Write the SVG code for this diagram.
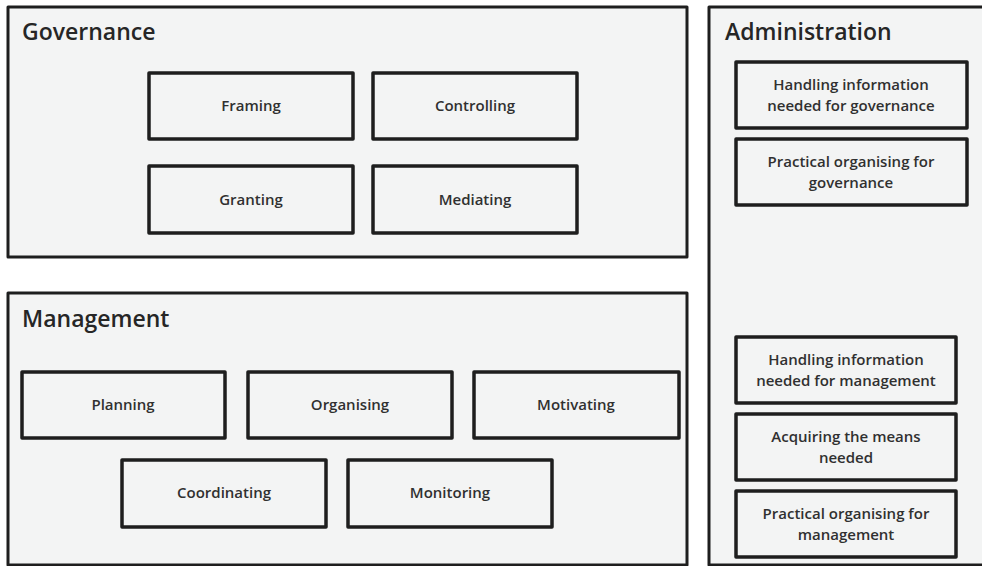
<svg xmlns="http://www.w3.org/2000/svg" width="982" height="566" viewBox="0 0 982 566">
<style>
.panel{fill:#f3f4f4;stroke:#1e1e1e;stroke-width:3;stroke-linejoin:round}
.box{fill:#f3f4f4;stroke:#1e1e1e;stroke-width:3.5;stroke-linejoin:round}
.title{font-family:"Open Sans","Liberation Sans",sans-serif;font-size:23px;font-weight:600;fill:#262626}
.lbl{font-family:"Open Sans","Liberation Sans",sans-serif;font-size:15px;font-weight:600;fill:#303030;text-anchor:middle}
</style>
<rect width="982" height="566" fill="#ffffff"/>
<g id="governance">
<rect class="panel" x="8" y="7" width="679" height="250"/>
<text class="title" x="22" y="40">Governance</text>
</g>
<g id="management">
<rect class="panel" x="8" y="293" width="679" height="272"/>
<text class="title" x="22" y="327">Management</text>
</g>
<g id="administration">
<rect class="panel" x="709" y="7" width="290" height="558"/>
<text class="title" x="725" y="40">Administration</text>
</g>
<g id="framing"><rect class="box" x="149" y="73" width="204" height="66"/><text class="lbl" x="251" y="111">Framing</text></g>
<g id="controlling"><rect class="box" x="373" y="73" width="204" height="66"/><text class="lbl" x="475" y="111">Controlling</text></g>
<g id="granting"><rect class="box" x="149" y="166" width="204" height="67"/><text class="lbl" x="251" y="205">Granting</text></g>
<g id="mediating"><rect class="box" x="373" y="166" width="204" height="67"/><text class="lbl" x="475" y="205">Mediating</text></g>
<g id="planning"><rect class="box" x="22" y="372" width="203" height="66"/><text class="lbl" x="123" y="410">Planning</text></g>
<g id="organising"><rect class="box" x="248" y="372" width="204" height="66"/><text class="lbl" x="350" y="410">Organising</text></g>
<g id="motivating"><rect class="box" x="474" y="372" width="205" height="66"/><text class="lbl" x="576" y="410">Motivating</text></g>
<g id="coordinating"><rect class="box" x="122" y="460" width="204" height="67"/><text class="lbl" x="224" y="498">Coordinating</text></g>
<g id="monitoring"><rect class="box" x="348" y="460" width="204" height="67"/><text class="lbl" x="450" y="498">Monitoring</text></g>
<g id="handling-gov"><rect class="box" x="736" y="62" width="231" height="66"/><text class="lbl" x="851" y="90">Handling information</text><text class="lbl" x="851" y="111">needed for governance</text></g>
<g id="practical-gov"><rect class="box" x="736" y="139" width="231" height="66"/><text class="lbl" x="851" y="167">Practical organising for</text><text class="lbl" x="851" y="188">governance</text></g>
<g id="handling-mgmt"><rect class="box" x="736" y="337" width="220" height="66"/><text class="lbl" x="846" y="365">Handling information</text><text class="lbl" x="846" y="386">needed for management</text></g>
<g id="acquiring"><rect class="box" x="736" y="414" width="220" height="66"/><text class="lbl" x="846" y="442">Acquiring the means</text><text class="lbl" x="846" y="463">needed</text></g>
<g id="practical-mgmt"><rect class="box" x="736" y="491" width="220" height="66"/><text class="lbl" x="846" y="519">Practical organising for</text><text class="lbl" x="846" y="540">management</text></g>
<g id="connectors"></g>
</svg>
